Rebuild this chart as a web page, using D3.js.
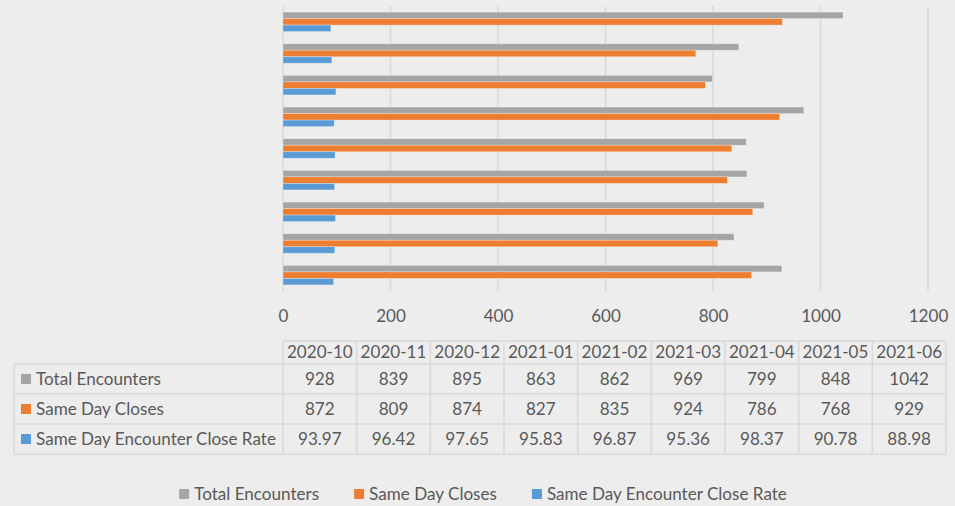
<!DOCTYPE html>
<html>
<head>
<meta charset="utf-8">
<script src="https://cdn.jsdelivr.net/npm/d3@7"></script>
<style>
  html, body { margin: 0; padding: 0; background: #EDEDED; }
  svg { display: block; }
</style>
</head>
<body>
<svg id="chart" width="955" height="506"></svg>
<script>
// Monthly encounter figures
const months = ["2020-10", "2020-11", "2020-12", "2021-01", "2021-02", "2021-03", "2021-04", "2021-05", "2021-06"];
const seriesNames = ["Total Encounters", "Same Day Closes", "Same Day Encounter Close Rate"];
const totalEncounters = [928, 839, 895, 863, 862, 969, 799, 848, 1042];
const sameDayCloses = [872, 809, 874, 827, 835, 924, 786, 768, 929];
const closeRate = [93.97, 96.42, 97.65, 95.83, 96.87, 95.36, 98.37, 90.78, 88.98];
const rateLabels = ["93.97", "96.42", "97.65", "95.83", "96.87", "95.36", "98.37", "90.78", "88.98"];
const xTicks = [0, 200, 400, 600, 800, 1000, 1200];
const seriesColors = ["#A5A5A5", "#ED7D31", "#5B9BD5"];

const seriesValues = [totalEncounters, sameDayCloses, closeRate];
const seriesText = [totalEncounters.map(String), sameDayCloses.map(String), rateLabels];

const svg = d3.select("#chart");
const fontFamily = "Lato, 'Open Sans', sans-serif";
const textColor = "#595959";
const gridColor = "#D9D9D9";

// Size the font so the longest series name spans the row-header width
const probe = svg.append("text").attr("font-family", fontFamily).attr("font-size", 16)
  .text("Same Day Encounter Close Rate");
const probeLen = probe.node().getComputedTextLength();
probe.remove();
const fontSize = 16 * 240 / probeLen;

const plot = { left: 283, right: 928, top: 6, bottom: 291 };

const x = d3.scaleLinear().domain([0, 1200]).range([plot.left, plot.right]);
const y = d3.scaleBand()
  .domain(months.slice().reverse())
  .range([plot.top, plot.bottom])
  .paddingInner(0.384)
  .paddingOuter(0.192);
const ySub = d3.scaleBand().domain(d3.range(3)).range([0, y.bandwidth()]);

// Vertical gridlines
svg.append("g")
  .selectAll("line")
  .data(xTicks)
  .join("line")
  .attr("x1", d => x(d)).attr("x2", d => x(d))
  .attr("y1", plot.top).attr("y2", plot.bottom)
  .attr("stroke", gridColor).attr("stroke-width", 1.5);

// Bars
const groups = svg.append("g")
  .selectAll("g")
  .data(months)
  .join("g")
  .attr("transform", d => `translate(0,${y(d)})`);

groups.selectAll("rect")
  .data((m, i) => seriesValues.map((vals, s) => ({ s, v: vals[i] })))
  .join("rect")
  .attr("x", x(0))
  .attr("y", d => ySub(d.s))
  .attr("width", d => x(d.v) - x(0))
  .attr("height", ySub.bandwidth())
  .attr("fill", d => seriesColors[d.s])
  .attr("stroke", "#ffffff").attr("stroke-opacity", 0.35).attr("stroke-width", 0.8);

// Axis tick labels
const axis = d3.axisBottom(x).tickValues(xTicks).tickSize(0).tickPadding(0).tickFormat(d3.format("d"));
const axisG = svg.append("g").attr("transform", `translate(0,${plot.bottom})`).call(axis);
axisG.select(".domain").remove();
axisG.selectAll("text")
  .attr("y", 25).attr("dy", "0.35em")
  .attr("font-family", fontFamily).attr("font-size", fontSize)
  .attr("fill", textColor);

// Data table
const table = { left: 14, colLeft: 283, colRight: 946, headTop: 341, headBottom: 364, rowH: 30 };
const colW = (table.colRight - table.colLeft) / months.length;
const tableBottom = table.headBottom + table.rowH * seriesNames.length;
const tg = svg.append("g");
const border = { stroke: "#D9D9D9", width: 1.5 };

// Horizontal lines
tg.append("line")
  .attr("x1", table.colLeft).attr("x2", table.colRight)
  .attr("y1", table.headTop).attr("y2", table.headTop);
tg.selectAll("line.h")
  .data(d3.range(seriesNames.length + 1))
  .join("line").attr("class", "h")
  .attr("x1", table.left).attr("x2", table.colRight)
  .attr("y1", i => table.headBottom + i * table.rowH)
  .attr("y2", i => table.headBottom + i * table.rowH);
// Vertical lines
tg.selectAll("line.v")
  .data(d3.range(months.length + 1))
  .join("line").attr("class", "v")
  .attr("x1", i => table.colLeft + i * colW).attr("x2", i => table.colLeft + i * colW)
  .attr("y1", table.headTop).attr("y2", tableBottom);
tg.append("line")
  .attr("x1", table.left).attr("x2", table.left)
  .attr("y1", table.headBottom).attr("y2", tableBottom);
tg.selectAll("line").attr("stroke", border.stroke).attr("stroke-width", border.width);

// Column headers
tg.selectAll("text.head")
  .data(months)
  .join("text").attr("class", "head")
  .attr("x", (d, i) => table.colLeft + (i + 0.5) * colW)
  .attr("y", (table.headTop + table.headBottom) / 2)
  .attr("dy", "0.35em").attr("text-anchor", "middle")
  .text(d => d);

// Row headers with colour keys
const rows = tg.selectAll("g.row")
  .data(seriesNames)
  .join("g").attr("class", "row")
  .attr("transform", (d, i) => `translate(0,${table.headBottom + (i + 0.5) * table.rowH})`);
rows.append("rect")
  .attr("x", 21).attr("y", -5).attr("width", 10).attr("height", 10)
  .attr("fill", (d, i) => seriesColors[i]);
rows.append("text")
  .attr("x", 36).attr("dy", "0.35em")
  .text(d => d);
rows.selectAll("text.val")
  .data((d, i) => seriesText[i])
  .join("text").attr("class", "val")
  .attr("x", (d, j) => table.colLeft + (j + 0.5) * colW)
  .attr("dy", "0.35em").attr("text-anchor", "middle")
  .text(d => d);

tg.selectAll("text")
  .attr("font-family", fontFamily).attr("font-size", fontSize).attr("fill", textColor);

// Legend
const legend = svg.append("g").attr("transform", "translate(0,494)");
const items = legend.selectAll("g")
  .data(seriesNames)
  .join("g");
items.append("rect")
  .attr("x", 0).attr("y", -5).attr("width", 10).attr("height", 10)
  .attr("fill", (d, i) => seriesColors[i]);
items.append("text")
  .attr("x", 15).attr("dy", "0.35em")
  .attr("font-family", fontFamily).attr("font-size", fontSize).attr("fill", textColor)
  .text(d => d);
let cursor = 0;
const offsets = [];
items.each(function () {
  offsets.push(cursor);
  const w = 15 + d3.select(this).select("text").node().getComputedTextLength();
  cursor += w + 35;
});
const legendW = cursor - 35;
const legendStart = 483 - legendW / 2;
items.attr("transform", (d, i) => `translate(${legendStart + offsets[i]},0)`);
</script>
</body>
</html>
